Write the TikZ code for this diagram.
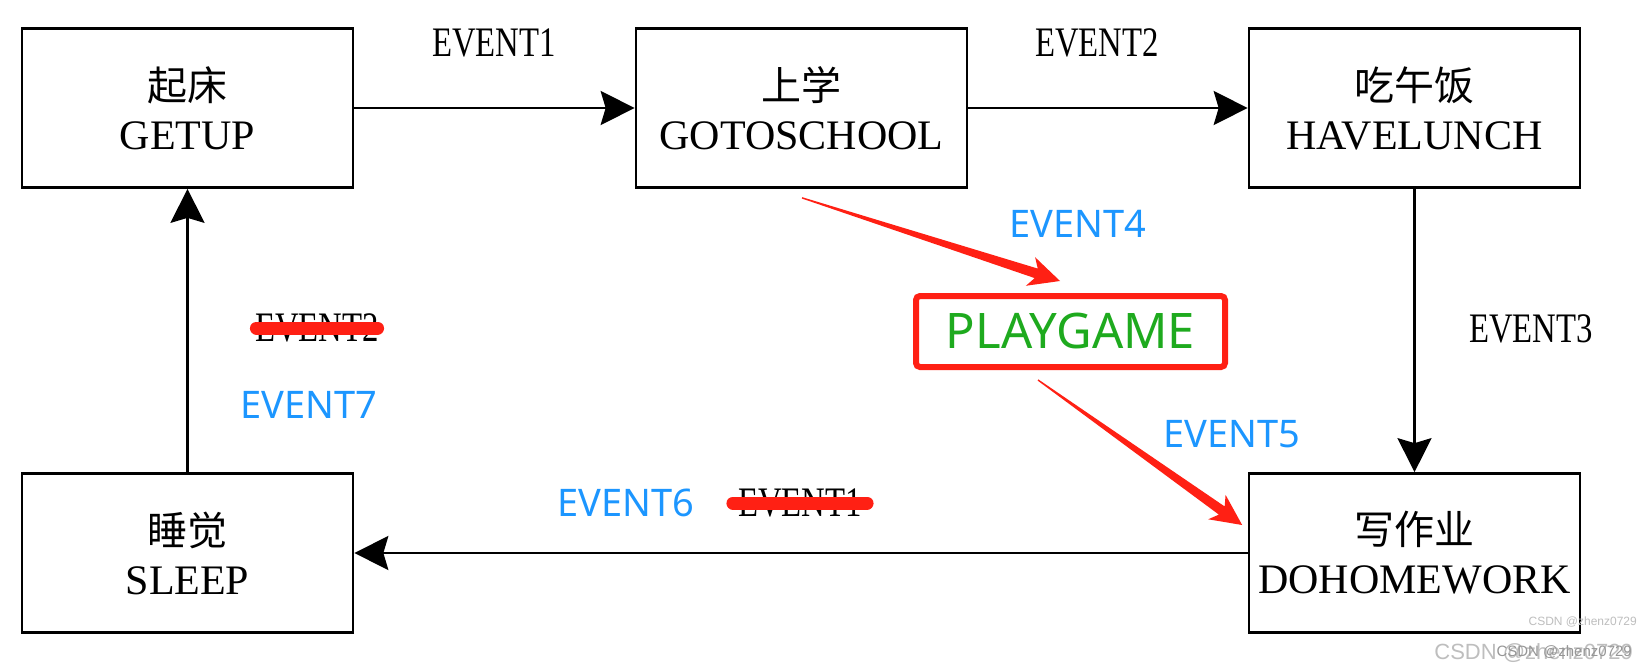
\documentclass[tikz,border=0pt]{standalone}
\usepackage{fontspec}
\setmainfont{Liberation Serif}
\newfontfamily\cjkfont{Noto Sans CJK SC}
\newfontfamily\condfont{Liberation Serif}[FakeStretch=0.78]
\newfontfamily\bluefont{Noto Sans}
\newfontfamily\wmfont{Liberation Sans}
\usetikzlibrary{arrows.meta,calc}
\definecolor{evblue}{RGB}{28,150,255}
\definecolor{pgreen}{RGB}{30,170,30}
\definecolor{pred}{RGB}{255,32,20}
\definecolor{wmgray}{RGB}{190,190,190}
\definecolor{wmgraydk}{RGB}{150,150,150}
\newcommand\sttext[2]{{\cjkfont\fontsize{40}{49}\selectfont #1}\\{\fontsize{42}{49}\selectfont #2}}
\newcommand\taperarrow[2]{%
  \coordinate (tb) at ($(#2)!25pt!(#1)$);
  \coordinate (tw) at ($(#2)!31pt!(#1)$);
  \fill[pred] ($(#1)!0.7pt!90:(#2)$) -- ($(tb)!5pt!90:(#2)$) -- ($(tw)!15pt!90:(#2)$) -- (#2)
    -- ($(tw)!15pt!-90:(#2)$) -- ($(tb)!5pt!-90:(#2)$) -- ($(#1)!0.7pt!-90:(#2)$) -- cycle;}
\begin{document}
\begin{tikzpicture}[x=1pt,y=-1pt,
  state/.style={draw=black, line width=2.7pt, minimum width=331pt, minimum height=159pt,
    inner sep=0pt, align=center, font=\fontsize{42}{49}\selectfont},
  flow/.style={line width=2.3pt, -{Stealth[length=34pt,width=34pt,inset=5pt]}},
  evlabel/.style={inner sep=0pt, font=\condfont\fontsize{42}{42}\selectfont},
  bluelabel/.style={inner sep=0pt, text=evblue, font=\bluefont\fontsize{38}{38}\selectfont},
  strike/.style={draw=pred, line width=13pt, line cap=round},
  playbox/.style={draw=pred, line width=6pt, rounded corners=4pt, minimum width=309pt,
    minimum height=71pt, inner sep=0pt, text=pgreen, font=\bluefont\fontsize{49}{49}\selectfont},
  wm/.style={inner sep=0pt, anchor=east, font=\wmfont}]
\useasboundingbox[fill=white] (0,0) rectangle (1648,669);

% states
\node[state] (getup) at (187.5,108) {\sttext{起床}{GETUP}};
\node[state] (goto)  at (801.5,108) {\sttext{上学}{GOTOSCHOOL}};
\node[state] (have)  at (1414.5,108) {\sttext{吃午饭}{HAVELUNCH}};
\node[state] (sleep) at (187.5,553) {\sttext{睡觉}{SLEEP}};
\node[state] (dohw)  at (1414.5,553) {\sttext{写作业}{DOHOMEWORK}};
\node[playbox] (play) at (1070.5,331.5) {PLAYGAME};

% connectors
\draw[flow] (getup.east) -- (goto.west);
\draw[flow] (goto.east) -- (have.west);
\draw[flow] (have.south) -- (dohw.north);
\draw[flow] (dohw.west) -- (sleep.east);
\draw[flow] (sleep.north) -- (getup.south);

% red tapered arrows
\coordinate (a1s) at ($(goto.south)+(0.5,9)$);
\coordinate (a1t) at ($(play.north)+(-10.5,-12)$);
\coordinate (a2s) at ($(play.south)+(-32.5,10)$);
\coordinate (a2t) at ($(dohw.west)+(-5.5,-28)$);
\taperarrow{a1s}{a1t}
\taperarrow{a2s}{a2t}

% labels
\node[evlabel] (ev1) at (494,43) {EVENT1};
\node[evlabel] (ev2) at (1097,43) {EVENT2};
\node[evlabel] (ev3) at (1531,329) {EVENT3};
\node[evlabel] (ev2x) at (317,328) {EVENT2};
\node[evlabel] (ev1x) at (800,503) {EVENT1};
\draw[strike] ([xshift=1.5pt]ev2x.west) -- ([xshift=-1.5pt]ev2x.east);
\draw[strike] ([xshift=-5pt]ev1x.west) -- ([xshift=5pt]ev1x.east);

\node[bluelabel] (ev4) at (1078,224) {EVENT4};
\node[bluelabel] (ev5) at (1232,434) {EVENT5};
\node[bluelabel] (ev6) at (626,503) {EVENT6};
\node[bluelabel] (ev7) at (309,405) {EVENT7};

% watermarks
\node[wm, text=wmgray, font=\wmfont\fontsize{12}{12}\selectfont] (wm1) at (1637,622) {CSDN @zhenz0729};
\node[wm, text=wmgray, font=\wmfont\fontsize{22}{22}\selectfont] (wm2) at (1633,653) {CSDN @zhenz0729};
\node[wm, text=wmgraydk, font=\wmfont\fontsize{15}{15}\selectfont] (wm3) at (1632,652) {CSDN @zhenz0729};
\end{tikzpicture}
\end{document}
